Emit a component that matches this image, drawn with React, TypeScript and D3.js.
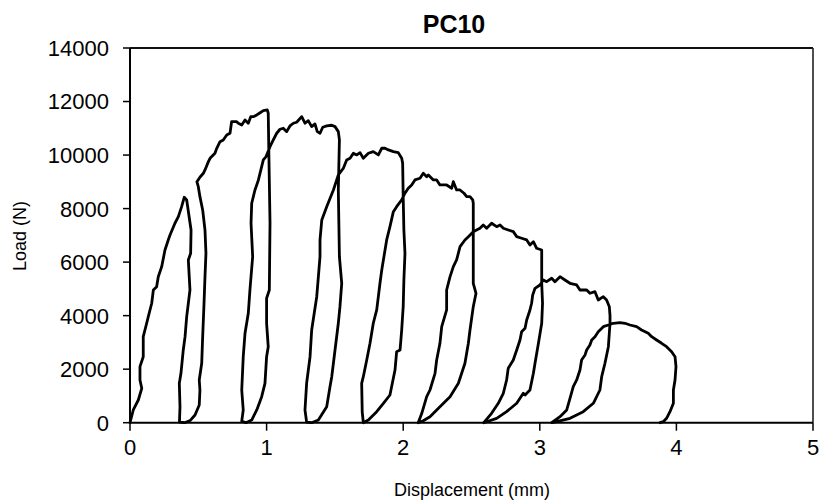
import React from "react";
import * as d3 from "d3";

const title = "PC10";
const xLabel = "Displacement (mm)";
const yLabel = "Load (N)";
const xTicks = [0, 1, 2, 3, 4, 5];
const yTicks = [0, 2000, 4000, 6000, 8000, 10000, 12000, 14000];

// Single continuous cyclic load-displacement record, [displacement mm, load N]
const displacement = [
  0, .024, .061, .086, .073, .073, .097, .097, .122, .134, .159, .171, .195, .207, .232, .256, .280, .293, .329, .354, .378, .397,
  .415, .447, .444, .427, .439, .415, .403, .390, .373, .361, .366, .362, .40, .44,
  .476, .507, .512, .507, .525, .532, .542, .549, .556, .549, .532, .512, .500, .49,
  .512, .537, .549, .574, .586, .622, .635, .659, .683, .708, .732, .744, .781, .793, .818, .842, .866, .884, .903, .928, .947, .976, 1.005,
  1.012, 1.017, 1.025, 1.02, 1.0, 1.0, 1.012, 1.0, .988, .964, .928, .891, .85, .818,
  .829, .818, .829, .842, .866, .878, .898, .886, .891, .915, .940, .976, .996, 1.025, 1.049,
  1.074, 1.098, 1.122, 1.147, 1.171, 1.196, 1.220, 1.257, 1.281, 1.305, 1.33, 1.354, 1.371, 1.391, 1.411, 1.44, 1.477, 1.501, 1.525,
  1.533, 1.525, 1.533, 1.55, 1.537, 1.525, 1.489, 1.477, 1.464, 1.44, 1.379, 1.33, 1.293,
  1.281, 1.293, 1.318, 1.33, 1.367, 1.379, 1.391, 1.391, 1.404, 1.44, 1.489, 1.525, 1.562, 1.586, 1.611, 1.635,
  1.66, 1.684, 1.708, 1.745, 1.781, 1.818, 1.843, 1.867, 1.892, 1.928, 1.964, 1.989,
  1.996, 2.0, 2.005, 2.013, 2.005, 2.0, 1.989, 1.977, 1.952, 1.94, 1.903, 1.855, 1.806, 1.745, 1.708,
  1.70, 1.696, 1.708, 1.733, 1.757, 1.781, 1.806, 1.818, 1.83, 1.843, 1.867, 1.879, 1.903, 1.928, 1.952, 1.989, 2.013, 2.037, 2.062, 2.086,
  2.123, 2.147, 2.172, 2.184, 2.221, 2.245, 2.269, 2.318, 2.355, 2.367, 2.391, 2.416, 2.445, 2.465, 2.489, 2.509,
  2.513, 2.513, 2.513, 2.533, 2.513, 2.489, 2.477, 2.452, 2.404, 2.343, 2.269, 2.196, 2.147, 2.11,
  2.136, 2.172, 2.196, 2.233, 2.245, 2.269, 2.282, 2.318, 2.318, 2.343, 2.367, 2.391, 2.416, 2.452, 2.477, 2.513,
  2.562, 2.586, 2.611, 2.647, 2.684, 2.709, 2.733, 2.769, 2.806, 2.831, 2.867, 2.904, 2.928, 2.953, 2.977, 3.014,
  3.014, 3.014, 3.02, 3.014, 2.99, 2.965, 2.953, 2.928, 2.892, 2.879, 2.831, 2.757, 2.684, 2.611, 2.59,
  2.647, 2.696, 2.733, 2.757, 2.769, 2.806, 2.831, 2.855, 2.867, 2.892, 2.904, 2.928, 2.94, 2.948, 2.965, 3.001, 3.026,
  3.05, 3.087, 3.111, 3.148, 3.184, 3.221, 3.27, 3.294, 3.343, 3.367, 3.404, 3.428, 3.465, 3.489, 3.509,
  3.514, 3.514, 3.502, 3.477, 3.453, 3.44, 3.392, 3.318, 3.221, 3.124, 3.087,
  3.148, 3.197, 3.221, 3.245, 3.27, 3.294, 3.306, 3.331, 3.343, 3.367, 3.38, 3.404, 3.428, 3.465, 3.502, 3.538, 3.587, 3.624, 3.66,
  3.709, 3.745, 3.794, 3.819, 3.855, 3.892, 3.928, 3.965, 3.99, 3.997, 3.99, 3.978, 3.978, 3.953, 3.928, 3.904, 3.88
];
const load = [
  0, 475, 848, 1286, 1596, 2093, 2466, 3214, 3715, 3961, 4462, 4959, 5082, 5456, 5830, 6453, 6828, 7015, 7452, 7698, 8072, 8423,
  8322, 7201, 6330, 6081, 4959, 3961, 3214, 2717, 1846, 1472, 598, 20, 0, 80,
  287, 661, 1222, 1596, 2220, 3214, 4462, 5456, 6330, 7201, 7949, 8446, 8819, 9000,
  9171, 9320, 9443, 9754, 9880, 10068, 10254, 10501, 10565, 10751, 10815, 11248, 11248, 11189, 11125, 11312, 11189, 11435, 11435, 11499, 11562, 11660, 11686,
  11562, 9940, 7451, 4959, 4649, 3714, 2840, 2466, 1472, 972, 475, 100, 0, 60,
  475, 1222, 2466, 3341, 4088, 4959, 6203, 7451, 8199, 8696, 9070, 9817, 9941, 10314, 10565,
  10815, 10964, 11002, 10875, 11088, 11189, 11226, 11435, 11189, 11286, 11062, 11163, 10875, 10815, 11039, 11088, 11114, 11062, 10875,
  10565, 8696, 6203, 5209, 4335, 3715, 2220, 1719, 1345, 598, 100, 0, 20,
  475, 1472, 2466, 3464, 4709, 5456, 6203, 6828, 7575, 8072, 8696, 9257, 9507, 9817, 9880, 10068,
  10004, 10090, 9880, 10068, 10127, 10004, 10254, 10254, 10191, 10127, 10090, 9880,
  9694, 8446, 7201, 6330, 5333, 4335, 3464, 2717, 2653, 1969, 1035, 725, 411, 100, 0,
  400, 1472, 1719, 2343, 2967, 3715, 4212, 4709, 5209, 5706, 6454, 6828, 7325, 7885, 8072, 8322, 8573, 8760, 8883, 9070,
  9133, 9320, 9193, 9257, 9070, 9070, 8883, 8883, 8760, 9006, 8696, 8696, 8573, 8446, 8446, 8322,
  8199, 7201, 5209, 4836, 4335, 3464, 2967, 2220, 1472, 972, 598, 224, 75, 0,
  351, 972, 1222, 1846, 2343, 2967, 3588, 4212, 4959, 5456, 5830, 6080, 6577, 6828, 6951, 7138,
  7265, 7388, 7265, 7451, 7325, 7388, 7265, 7201, 7138, 6951, 6891, 6828, 6641, 6764, 6517, 6454,
  6203, 5209, 4462, 3715, 2967, 2220, 1846, 1222, 1035, 1099, 725, 411, 164, 37, 0,
  351, 725, 1099, 1596, 2033, 2343, 2717, 3091, 3401, 3528, 3838, 4212, 4462, 4772, 5022, 5146, 5333,
  5269, 5396, 5269, 5456, 5333, 5209, 5146, 4959, 4959, 4836, 4896, 4585, 4709, 4585, 4335,
  4000, 3715, 2840, 2220, 1719, 1222, 725, 411, 164, 37, 0,
  224, 475, 912, 1345, 1596, 1969, 2343, 2530, 2717, 2904, 3091, 3214, 3401, 3588, 3651, 3714, 3737, 3714, 3651,
  3588, 3464, 3341, 3214, 3091, 2967, 2840, 2653, 2466, 2093, 1596, 1222, 725, 411, 164, 37, 0
];

const W = 819, H = 500;
const left = 130, right = 813, top = 48, bottom = 422.7;

export default function App() {
  const x = d3.scaleLinear().domain([0, 5]).range([left, right]);
  const y = d3.scaleLinear().domain([0, 14000]).range([bottom, top]);
  const pts: [number, number][] = displacement.map((d, i) => [d, load[i]]);
  const line = d3.line<[number, number]>().x(d => x(d[0])).y(d => y(d[1]));
  const font = "'Liberation Sans', Arial, sans-serif";
  return (
    <svg width={W} height={H} style={{ position: "absolute", left: 0, top: 0, background: "#fff" }} fontFamily={font}>
      <rect x={0} y={0} width={W} height={H} fill="#fff" />
      <path d={line(pts) || ""} fill="none" stroke="#000" strokeWidth={2.8} strokeLinejoin="round" strokeLinecap="round" />
      <line x1={left} x2={right} y1={top} y2={top} stroke="#111" strokeWidth={1.8} />
      <line x1={right} x2={right} y1={top} y2={bottom} stroke="#222" strokeWidth={1.6} />
      <line x1={left} x2={left} y1={top} y2={bottom} stroke="#000" strokeWidth={2} />
      <line x1={left} x2={right} y1={bottom} y2={bottom} stroke="#000" strokeWidth={2} />
      {yTicks.map(t => (
        <g key={"y" + t}>
          <line x1={left - 7} x2={left} y1={y(t)} y2={y(t)} stroke="#000" strokeWidth={1.5} />
          <text x={left - 21} y={y(t)} dy="0.36em" textAnchor="end" fontSize={22}>{t}</text>
        </g>
      ))}
      {xTicks.map(t => (
        <g key={"x" + t}>
          <line x1={x(t)} x2={x(t)} y1={bottom} y2={bottom + 8} stroke="#000" strokeWidth={1.5} />
          <text x={x(t)} y={bottom + 32} textAnchor="middle" fontSize={22}>{t}</text>
        </g>
      ))}
      <text x={454} y={33} textAnchor="middle" fontSize={25} fontWeight="bold">{title}</text>
      <text x={472} y={496} textAnchor="middle" fontSize={18}>{xLabel}</text>
      <text transform={`translate(26,236) rotate(-90)`} textAnchor="middle" fontSize={18}>{yLabel}</text>
    </svg>
  );
}
